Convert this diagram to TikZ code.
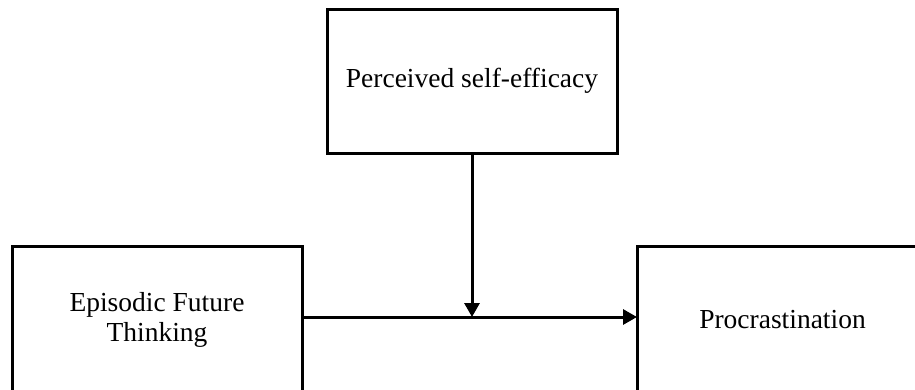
\documentclass[tikz,border=0pt]{standalone}
\usepackage{fontspec}
\setmainfont{Liberation Serif}
\usetikzlibrary{arrows.meta}
\begin{document}
\begin{tikzpicture}[x=1pt,y=-1pt,
  box/.style={draw=black,line width=3pt,fill=white,inner sep=0pt,outer sep=0pt,
    align=center,font=\fontsize{27.5}{29.5}\selectfont},
  conn/.style={line width=3pt,-{Triangle[length=14pt,width=15pt]}}]
\clip (0,0) rectangle (915,389);
\fill[white] (0,0) rectangle (915,389);
\node[box,minimum width=290pt,minimum height=144pt] (pse) at (472,81) {Perceived self-efficacy};
\node[box,minimum width=290pt,minimum height=148pt] (eft) at (157,320) {Episodic Future\\Thinking};
\node[box,minimum width=291pt,minimum height=148pt] (proc) at (782.5,320) {Procrastination};
\coordinate (j) at (472,317);
\draw[conn] (eft.east |- j) -- (proc.west |- j);
\draw[conn] (pse.south) -- (j);
\end{tikzpicture}
\end{document}
